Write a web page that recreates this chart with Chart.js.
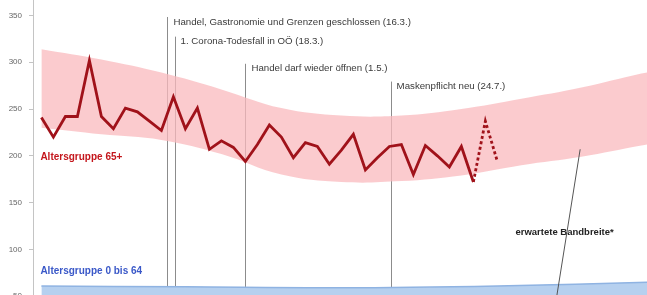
<!DOCTYPE html>
<html>
<head>
<meta charset="utf-8">
<script src="https://cdn.jsdelivr.net/npm/chart.js@4/dist/chart.umd.min.js"></script>
<style>
  html, body { margin: 0; padding: 0; background: #fff; width: 647px; height: 295px; overflow: hidden; }
  #wrap { position: relative; width: 647px; height: 343px; }
</style>
</head>
<body>
<div id="wrap"><canvas id="chart"></canvas></div>
<script>
  // Kalenderwochen (x) und Sterbefälle 65+ pro Woche
  var weeks = [];
  for (var k = 1; k <= 39; k++) weeks.push(k);
  var deaths65 = [241, 220, 242, 242, 302, 242, 229, 251, 247, 237, 227, 263, 229,
                  251, 207, 216, 209, 194, 212, 233, 220, 198, 214, 210, 191, 206,
                  223, 185, 198, 210, 212, 180, 211, 200, 188, 210, 172, 237, 194];
  var DASH_FROM_WEEK = 37; // last weeks still provisional (dashed)

  // erwartete Bandbreite 65+ (Stützstellen)
  var bandWeeks = [1, 6, 11, 16, 21, 26, 31, 36, 41, 46, 51, 52];
  var bandUpper = [314, 303, 289, 271, 251, 243, 243, 250, 261, 273, 288, 290];
  var bandLower = [230, 223, 217, 202, 180, 172, 173, 179, 190, 199, 211, 213];

  // erwartete Bandbreite 0 bis 64
  var youngWeeks = [1, 13, 26, 39, 52];
  var youngUpper = [61, 60, 59, 61, 65];
  var youngLower = [10, 10, 10, 10, 10];

  var yTicks = [0, 50, 100, 150, 200, 250, 300, 350];

  // Ereignisse: Kalenderwoche (anteilig), Beschriftungshöhe
  var eventLabels = [
    'Handel, Gastronomie und Grenzen geschlossen (16.3.)',
    '1. Corona-Todesfall in OÖ (18.3.)',
    'Handel darf wieder öffnen (1.5.)',
    'Maskenpflicht neu (24.7.)'
  ];
  var eventWeeks = [11.5, 12.1, 18.0, 30.1];
  var eventLabelY = [343, 322, 293, 274];

  function pts(xs, ys) {
    return xs.map(function (x, i) { return { x: x, y: ys[i] }; });
  }

  var annotations = {
    id: 'annotations',
    beforeDatasetsDraw: function (chart) {
      var ctx = chart.ctx;
      var xs = chart.scales.x, ys = chart.scales.y;
      var area = chart.chartArea;
      ctx.save();
      ctx.strokeStyle = '#8c8c8c';
      ctx.lineWidth = 1;
      eventWeeks.forEach(function (w, i) {
        var px = Math.round(xs.getPixelForValue(w)) + 0.5;
        var py = ys.getPixelForValue(eventLabelY[i]) - 5;
        ctx.beginPath();
        ctx.moveTo(px, py);
        ctx.lineTo(px, area.bottom);
        ctx.stroke();
      });
      ctx.restore();
    },
    afterDatasetsDraw: function (chart) {
      var ctx = chart.ctx;
      var xs = chart.scales.x, ys = chart.scales.y;
      ctx.save();
      ctx.textBaseline = 'middle';
      ctx.textAlign = 'left';
      ctx.fillStyle = '#3a3a3a';
      ctx.font = '9.7px "Liberation Sans", Arial, sans-serif';
      eventWeeks.forEach(function (w, i) {
        ctx.fillText(eventLabels[i], xs.getPixelForValue(w) + 6, ys.getPixelForValue(eventLabelY[i]));
      });

      // Gruppenbeschriftungen
      ctx.font = 'bold 10px "Liberation Sans", Arial, sans-serif';
      ctx.fillStyle = '#c4161c';
      ctx.fillText('Altersgruppe 65+', xs.getPixelForValue(1) - 1, ys.getPixelForValue(198));
      ctx.fillStyle = '#3a58c8';
      ctx.fillText('Altersgruppe 0 bis 64', xs.getPixelForValue(1) - 1, ys.getPixelForValue(77));

      // Zeiger "erwartete Bandbreite*"
      ctx.strokeStyle = '#555';
      ctx.lineWidth = 1;
      ctx.beginPath();
      ctx.moveTo(xs.getPixelForValue(45.9), ys.getPixelForValue(207));
      ctx.lineTo(xs.getPixelForValue(43.7), ys.getPixelForValue(30));
      ctx.stroke();
      ctx.fillStyle = '#222';
      ctx.textAlign = 'center';
      ctx.font = 'bold 9.5px "Liberation Sans", Arial, sans-serif';
      ctx.fillText('erwartete Bandbreite*', xs.getPixelForValue(44.6), ys.getPixelForValue(118));
      ctx.restore();
    }
  };

  new Chart(document.getElementById('chart'), {
    type: 'line',
    data: {
      datasets: [
        {
          label: 'Altersgruppe 65+',
          data: pts(weeks, deaths65),
          borderColor: '#a0121a',
          borderWidth: 2.8,
          pointRadius: 0,
          tension: 0,
          fill: false,
          order: 0,
          segment: {
            borderDash: function (c) { return weeks[c.p0DataIndex] >= DASH_FROM_WEEK ? [3, 2.5] : undefined; }
          }
        },
        {
          label: 'Bandbreite oben',
          data: pts(bandWeeks, bandUpper),
          borderWidth: 0,
          borderColor: 'transparent',
          backgroundColor: 'rgba(250, 186, 189, 0.75)',
          pointRadius: 0,
          tension: 0.4,
          fill: '+1',
          order: 2
        },
        {
          label: 'Bandbreite unten',
          data: pts(bandWeeks, bandLower),
          borderWidth: 0,
          borderColor: 'transparent',
          pointRadius: 0,
          tension: 0.4,
          fill: false,
          order: 2
        },
        {
          label: '0-64 oben',
          data: pts(youngWeeks, youngUpper),
          borderWidth: 1.5,
          borderColor: '#8fb3e2',
          backgroundColor: '#b6d0ef',
          pointRadius: 0,
          tension: 0.4,
          fill: '+1',
          order: 3
        },
        {
          label: '0-64 unten',
          data: pts(youngWeeks, youngLower),
          borderWidth: 0,
          borderColor: 'transparent',
          pointRadius: 0,
          tension: 0.4,
          fill: false,
          order: 3
        }
      ]
    },
    options: {
      responsive: true,
      maintainAspectRatio: false,
      animation: false,
      layout: { padding: 0 },
      plugins: { legend: { display: false }, tooltip: { enabled: false } },
      scales: {
        x: {
          type: 'linear',
          min: 0.3,
          max: 51.47,
          display: false
        },
        y: {
          min: 0,
          max: 366.5,
          afterBuildTicks: function (scale) {
            scale.ticks = yTicks.map(function (v) { return { value: v }; });
          },
          afterFit: function (scale) {
            scale.width = 33;
            scale.paddingTop = 0;
            scale.paddingBottom = 0;
          },
          grid: { drawOnChartArea: false, drawTicks: true, tickLength: 4, color: '#c4c4c4' },
          border: { display: true, color: '#c4c4c4' },
          ticks: {
            padding: 7,
            color: '#666',
            font: { family: 'Liberation Sans', size: 8 }
          }
        }
      }
    },
    plugins: [annotations]
  });
</script>
</body>
</html>
